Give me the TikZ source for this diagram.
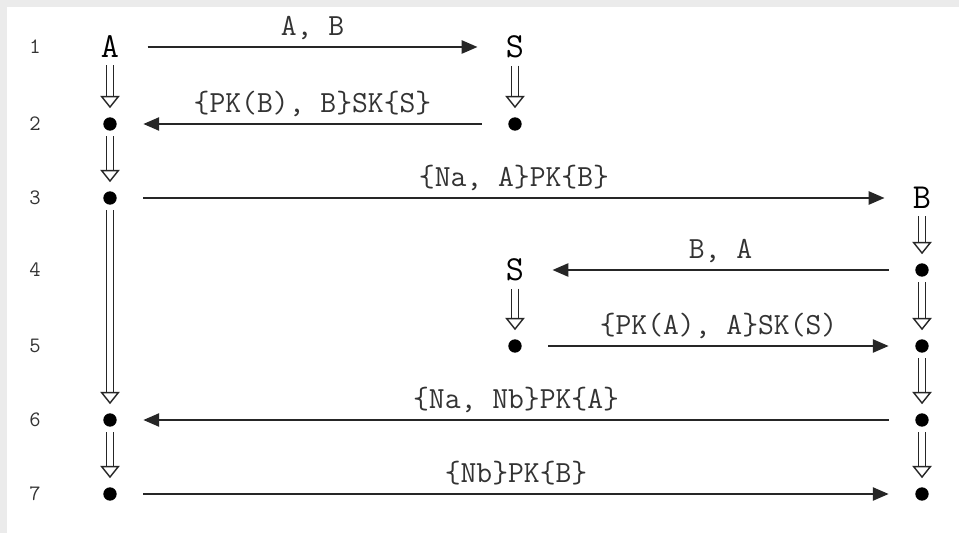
\documentclass[tikz,border=0pt]{standalone}
\usepackage{fontspec}
\usetikzlibrary{arrows.meta}
\tikzset{every picture/.style={/utils/exec={\ttfamily}}}
\tikzset{
  party/.style={inner sep=1pt, font=\ttfamily\fontsize{20}{20}\selectfont},
  event/.style={circle, fill=black, inner sep=0pt, minimum size=7.6pt},
  rownum/.style={font=\ttfamily\fontsize{12.5}{12.5}\selectfont, text=black!80},
  msg/.style={black!85, line width=1.1pt, shorten <=15pt, shorten >=15pt,
    -{Triangle[length=9pt, width=7.5pt]}},
  lbl/.style={anchor=base, inner sep=0pt, yshift=6.5pt,
    font=\ttfamily\fontsize{17.5}{17.5}\selectfont, text=black!80},
  flow/.style={double, double distance=3pt, line width=0.8pt, black!85,
    shorten <=3pt, shorten >=5pt,
    -{Triangle[open, fill=white, length=7pt, width=11pt]}}
}

\begin{document}
\begin{tikzpicture}[x=0.02cm, y=-0.02cm]
  \fill[black!8] (0,0) rectangle (959,533);
  \fill[white] (7,7) rectangle (959,533);
  \useasboundingbox (0,0) rectangle (959,533);

  % step numbers
  \foreach \r/\y in {1/47,2/124,3/198,4/270,5/346,6/420,7/494}
    \node[rownum] (n\r) at (35,\y) {\r};

  % principals and events
  \node[party] (A1) at (110,47) {A};
  \node[party] (S1) at (515,47) {S};
  \node[event] (A2) at (110,124) {};
  \node[event] (S2) at (515,124) {};
  \node[event] (A3) at (110,198) {};
  \node[party] (B3) at (922,198) {B};
  \node[party] (S4) at (515,270) {S};
  \node[event] (B4) at (922,270) {};
  \node[event] (S5) at (515,346) {};
  \node[event] (B5) at (922,346) {};
  \node[event] (A6) at (110,420) {};
  \node[event] (B6) at (922,420) {};
  \node[event] (A7) at (110,494) {};
  \node[event] (B7) at (922,494) {};

  % messages
  \draw[msg] (A1) -- node[lbl] {A, B} (S1);
  \draw[msg] (S2) -- node[lbl] {\{PK(B), B\}SK\{S\}} (A2);
  \draw[msg] (A3) -- node[lbl] {\{Na, A\}PK\{B\}} (B3);
  \draw[msg] (B4) -- node[lbl] {B, A} (S4);
  \draw[msg] (S5) -- node[lbl] {\{PK(A), A\}SK(S)} (B5);
  \draw[msg] (B6) -- node[lbl] {\{Na, Nb\}PK\{A\}} (A6);
  \draw[msg] (A7) -- node[lbl] {\{Nb\}PK\{B\}} (B7);

  % local flow
  \draw[flow] (A1) -- (A2);
  \draw[flow] (A2) -- (A3);
  \draw[flow] (A3) -- (A6);
  \draw[flow] (A6) -- (A7);
  \draw[flow] (S1) -- (S2);
  \draw[flow] (S4) -- (S5);
  \draw[flow] (B3) -- (B4);
  \draw[flow] (B4) -- (B5);
  \draw[flow] (B5) -- (B6);
  \draw[flow] (B6) -- (B7);
\end{tikzpicture}
\end{document}
